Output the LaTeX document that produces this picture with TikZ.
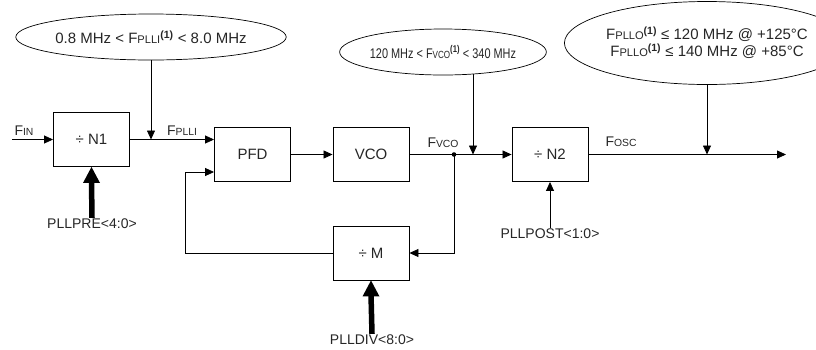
\documentclass[tikz,border=0pt]{standalone}
\usepackage{fontspec}
\setmainfont{Liberation Sans}
\usetikzlibrary{arrows.meta,shapes.geometric,backgrounds,calc}
\newcommand{\smc}[1]{{\fontsize{0.74\dimexpr\csname f@size\endcsname pt\relax}{10}\selectfont #1}}
\newcommand{\supone}{\textsuperscript{\textbf{(1)}}}
\begin{document}
\begin{tikzpicture}[x=1pt,y=-1pt,
  every node/.style={font=\fontsize{14}{16}\selectfont, text=black!85},
  blk/.style={draw, line width=0.9pt, minimum width=76pt, minimum height=54pt, inner sep=0pt, font=\fontsize{15}{17}\selectfont},
  ell/.style={draw, ellipse, line width=0.7pt, fill=white, inner sep=0pt},
  lbl/.style={inner sep=1pt},
  conn/.style={line width=0.8pt, -{Triangle[length=9pt,width=8pt]}},
  fatshaft/.style={line width=5.5pt},
]
\useasboundingbox (0,0) rectangle (816,349);

% blocks
\node[blk] (n1)  at (91.5,139.5) {÷ N1};
\node[blk] (pfd) at (252.5,154.5) {PFD};
\node[blk] (vco) at (371,154.5) {VCO};
\node[blk] (n2)  at (550,154.5) {÷ N2};
\node[blk] (m)   at (371,253) {÷ M};

% ellipses
\node[ell, minimum width=222pt, minimum height=46pt, font=\fontsize{15}{17}\selectfont] (e1) at (151,37)
  {0.8 MHz < F\smc{PLLI}\supone{} < 8.0 MHz};
\node[ell, minimum width=172pt, minimum height=46pt, font=\fontsize{14}{16}\selectfont] (e2) at (443,52)
  {\scalebox{0.78}[1]{120 MHz < F\smc{VCO}\supone{} < 340 MHz}};
\node[ell, minimum width=220pt, minimum height=83pt, align=center, font=\fontsize{15}{17}\selectfont] (e3) at (707,43)
  {F\smc{PLLO}\supone{} ≤ 120 MHz @ +125°C\\F\smc{PLLO}\supone{} ≤ 140 MHz @ +85°C};

% labels
\node[lbl] (lfin)   at (24,131)  {F\smc{IN}};
\node[lbl] (lfplli) at (182,131) {F\smc{PLLI}};
\node[lbl] (lfvco)  at (443,143) {F\smc{VCO}};
\node[lbl] (lfosc)  at (621,142) {F\smc{OSC}};
\node[lbl] (lpre)   at (92,224)  {PLLPRE<4:0>};
\node[lbl] (lpost)  at (550,234) {PLLPOST<1:0>};
\node[lbl] (ldiv)   at (372,340) {PLLDIV<8:0>};

% coordinates
\coordinate (fin) at (12,139.5);
\coordinate (dot) at (454,154.5);
\coordinate (j2)  at (473,154.5);
\coordinate (out) at (786,154.5);
\coordinate (fb)  at (185,172);

% connectors
\draw[conn] (fin) -- (n1.west);
\draw[conn] (n1.east) -- (n1.east -| pfd.west);
\draw[conn] (e1.south) -- (e1.south |- n1.east);
\draw[conn] (pfd.east) -- (vco.west);
\draw[conn] (vco.east) -- (n2.west);
\begin{scope}[on background layer]
\draw[conn] (e2.center -| j2) -- (j2);
\end{scope}
\fill (dot) circle (2.3pt);
\draw[conn] (n2.east) -- (out);
\draw[conn] (e3.south) -- (e3.south |- out);
\draw[conn] (lpost.north) -- (n2.south);
\draw[conn] (dot) |- (m.east);
\draw[conn] (m.west) -| (fb) -- (fb -| pfd.west);
% thick control arrows
\draw[fatshaft] (lpre.north) -- ($(n1.south)+(0,14)$);
\fill (n1.south) -- ++(-8.5,16) -- ++(17,0) -- cycle;
\draw[fatshaft] (ldiv.north) -- ($(m.south)+(0,14)$);
\fill (m.south) -- ++(-8.5,16) -- ++(17,0) -- cycle;
\end{tikzpicture}
\end{document}
